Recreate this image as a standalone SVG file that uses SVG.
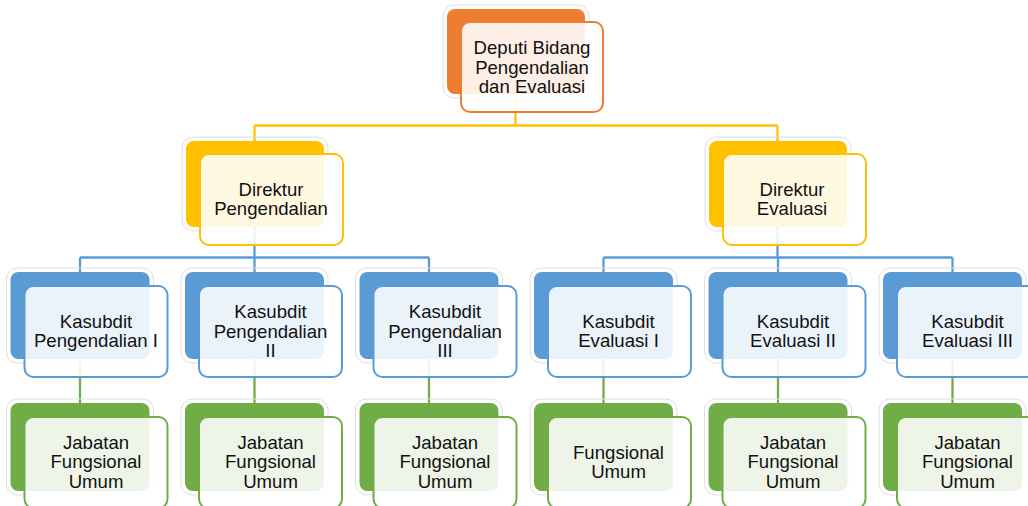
<svg xmlns="http://www.w3.org/2000/svg" width="1028" height="506" viewBox="0 0 1028 506">
<style>
text{font-family:"Liberation Sans",Arial,sans-serif;font-size:18.6px;fill:#111;text-anchor:middle}
.glow{fill:none;stroke:#dedede;stroke-width:1}
.front{fill:#fff;fill-opacity:0.88;stroke-width:2}
.c{fill:none;stroke-width:2.3}
.o .back{fill:#ED7D31}.o .front{stroke:#ED7D31}
.y .back{fill:#FFC000}.y .front{stroke:#FFC000}
.b .back{fill:#5B9BD5}.b .front{stroke:#5B9BD5}
.g .back{fill:#70AD47}.g .front{stroke:#70AD47}
</style>
<rect width="1028" height="506" fill="#fff"/>
<g id="connectors">
<path class="c" stroke="#FFC000" d="M515.5 90V125.5M254.5 125.5H777.5M254.5 125.5V145M777.5 125.5V145"/>
<path class="c" stroke="#5B9BD5" d="M254.5 225V257.5M80 257.5H429M80 257.5V276M254.5 257.5V276M429 257.5V276"/>
<path class="c" stroke="#5B9BD5" d="M777.5 225V257.5M603.5 257.5H952.5M603.5 257.5V276M778 257.5V276M952.5 257.5V276"/>
<path class="c" stroke="#70AD47" d="M80 355V407M254.5 355V407M429 355V407M603.5 355V407M778 355V407M952.5 355V407"/>
</g>
<g id="n-deputi" class="o">
<rect class="glow" x="443" y="5" width="146" height="93" rx="11"/>
<rect class="back" x="447" y="9" width="138" height="85" rx="8"/>
<rect class="front" x="461" y="22" width="142" height="90" rx="9"/>
<text x="532" y="54">Deputi Bidang</text><text x="532" y="73.5">Pengendalian</text><text x="532" y="93">dan Evaluasi</text>
</g>
<g id="n-dir-peng" class="y">
<rect class="glow" x="182" y="137" width="146" height="94" rx="11"/>
<rect class="back" x="186" y="141" width="138" height="86" rx="8"/>
<rect class="front" x="200" y="154" width="143" height="91" rx="9"/>
<text x="271" y="195.5">Direktur</text><text x="271" y="215">Pengendalian</text>
</g>
<g id="n-dir-eval" class="y">
<rect class="glow" x="705" y="137" width="146" height="94" rx="11"/>
<rect class="back" x="709" y="141" width="138" height="86" rx="8"/>
<rect class="front" x="723" y="154" width="143" height="91" rx="9"/>
<text x="792" y="195.5">Direktur</text><text x="792" y="215">Evaluasi</text>
</g>
<g id="n-ks1" class="b">
<rect class="glow" x="6.5" y="268" width="147" height="95" rx="11"/>
<rect class="back" x="10.5" y="272" width="139" height="87" rx="8"/>
<rect class="front" x="24.5" y="286" width="143" height="91" rx="9"/>
<text x="96" y="328">Kasubdit</text><text x="96" y="347">Pengendalian I</text>
</g>
<g id="n-ks2" class="b">
<rect class="glow" x="181" y="268" width="147" height="95" rx="11"/>
<rect class="back" x="185" y="272" width="139" height="87" rx="8"/>
<rect class="front" x="199" y="286" width="143" height="91" rx="9"/>
<text x="270.5" y="318">Kasubdit</text><text x="270.5" y="337.5">Pengendalian</text><text x="270.5" y="357">II</text>
</g>
<g id="n-ks3" class="b">
<rect class="glow" x="355.5" y="268" width="147" height="95" rx="11"/>
<rect class="back" x="359.5" y="272" width="139" height="87" rx="8"/>
<rect class="front" x="373.5" y="286" width="143" height="91" rx="9"/>
<text x="445" y="318">Kasubdit</text><text x="445" y="337.5">Pengendalian</text><text x="445" y="357">III</text>
</g>
<g id="n-ks4" class="b">
<rect class="glow" x="530" y="268" width="147" height="95" rx="11"/>
<rect class="back" x="534" y="272" width="139" height="87" rx="8"/>
<rect class="front" x="548" y="286" width="143" height="91" rx="9"/>
<text x="618.5" y="328">Kasubdit</text><text x="618.5" y="347">Evaluasi I</text>
</g>
<g id="n-ks5" class="b">
<rect class="glow" x="704.5" y="268" width="147" height="95" rx="11"/>
<rect class="back" x="708.5" y="272" width="139" height="87" rx="8"/>
<rect class="front" x="722.5" y="286" width="143" height="91" rx="9"/>
<text x="793" y="328">Kasubdit</text><text x="793" y="347">Evaluasi II</text>
</g>
<g id="n-ks6" class="b">
<rect class="glow" x="879" y="268" width="147" height="95" rx="11"/>
<rect class="back" x="883" y="272" width="139" height="87" rx="8"/>
<rect class="front" x="897" y="286" width="143" height="91" rx="9"/>
<text x="967.5" y="328">Kasubdit</text><text x="967.5" y="347">Evaluasi III</text>
</g>
<g id="n-jf1" class="g">
<rect class="glow" x="6.5" y="399" width="147" height="96" rx="11"/>
<rect class="back" x="10.5" y="403" width="139" height="88" rx="8"/>
<rect class="front" x="24.5" y="417" width="143" height="91" rx="9"/>
<text x="96" y="448.5">Jabatan</text><text x="96" y="468">Fungsional</text><text x="96" y="487.5">Umum</text>
</g>
<g id="n-jf2" class="g">
<rect class="glow" x="181" y="399" width="147" height="96" rx="11"/>
<rect class="back" x="185" y="403" width="139" height="88" rx="8"/>
<rect class="front" x="199" y="417" width="143" height="91" rx="9"/>
<text x="270.5" y="448.5">Jabatan</text><text x="270.5" y="468">Fungsional</text><text x="270.5" y="487.5">Umum</text>
</g>
<g id="n-jf3" class="g">
<rect class="glow" x="355.5" y="399" width="147" height="96" rx="11"/>
<rect class="back" x="359.5" y="403" width="139" height="88" rx="8"/>
<rect class="front" x="373.5" y="417" width="143" height="91" rx="9"/>
<text x="445" y="448.5">Jabatan</text><text x="445" y="468">Fungsional</text><text x="445" y="487.5">Umum</text>
</g>
<g id="n-jf4" class="g">
<rect class="glow" x="530" y="399" width="147" height="96" rx="11"/>
<rect class="back" x="534" y="403" width="139" height="88" rx="8"/>
<rect class="front" x="548" y="417" width="143" height="91" rx="9"/>
<text x="618.5" y="458.5">Fungsional</text><text x="618.5" y="478">Umum</text>
</g>
<g id="n-jf5" class="g">
<rect class="glow" x="704.5" y="399" width="147" height="96" rx="11"/>
<rect class="back" x="708.5" y="403" width="139" height="88" rx="8"/>
<rect class="front" x="722.5" y="417" width="143" height="91" rx="9"/>
<text x="793" y="448.5">Jabatan</text><text x="793" y="468">Fungsional</text><text x="793" y="487.5">Umum</text>
</g>
<g id="n-jf6" class="g">
<rect class="glow" x="879" y="399" width="147" height="96" rx="11"/>
<rect class="back" x="883" y="403" width="139" height="88" rx="8"/>
<rect class="front" x="897" y="417" width="143" height="91" rx="9"/>
<text x="967.5" y="448.5">Jabatan</text><text x="967.5" y="468">Fungsional</text><text x="967.5" y="487.5">Umum</text>
</g>
</svg>
